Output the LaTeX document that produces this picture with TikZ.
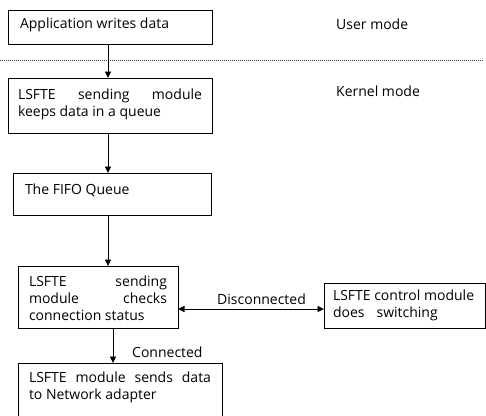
\documentclass[tikz,border=0pt]{standalone}
\usepackage{fontspec}
\setmainfont{Open Sans}
\usetikzlibrary{arrows.meta}

% boxed text: \boxtext{width}{height}{first baseline}{content}
\newcommand{\boxtext}[4]{%
  \parbox[t][#2][t]{#1}{\tolerance=10000\hbadness=10000\rule{0pt}{#3}#4}}

\begin{document}
\begin{tikzpicture}[x=1pt,y=-1pt,
  txt/.style={font=\fontsize{14}{17}\selectfont, text=black},
  stage/.style={txt, draw, line width=0.9pt, anchor=north west,
    inner ysep=0pt, outer sep=0pt},
  label/.style={txt, anchor=base west, inner sep=0pt},
  arr/.style={line width=0.9pt, -{Triangle[length=6.5pt,width=6pt]}},
  darr/.style={line width=0.9pt, {Triangle[length=6.5pt,width=6pt]}-{Triangle[length=6.5pt,width=6pt]}}
]
\clip (0,0) rectangle (486,415);

% stages of the sending path
\node[stage, inner xsep=12pt] (app) at (8,10)
  {\boxtext{180pt}{34pt}{18pt}{Application writes data}};
\node[stage, inner xsep=10pt] (queue) at (8,78)
  {\boxtext{184pt}{55pt}{21pt}{LSFTE sending module\linebreak keeps data in a queue}};
\node[stage, inner xsep=12pt] (fifo) at (13,173)
  {\boxtext{174pt}{42pt}{21pt}{The FIFO Queue}};
\node[stage, inner xsep=11pt] (check) at (18,266)
  {\boxtext{138pt}{62pt}{20pt}{LSFTE sending\linebreak module checks\linebreak connection status}};
\node[stage, inner xsep=9pt] (ctrl) at (324,283)
  {\boxtext{143pt}{45pt}{17pt}{LSFTE control module\\does\hspace{12pt}switching}};
\node[stage, inner xsep=11pt] (send) at (18,363)
  {\boxtext{182pt}{62pt}{19pt}{LSFTE module sends data\linebreak to Network adapter}};

% user / kernel boundary
\coordinate (bndL) at (0,60);
\coordinate (bndR) at (483,60);
\draw[line width=0.8pt, dash pattern=on 1pt off 1pt, black!75] (bndL) -- (bndR);
\node[label] (user) at (336,29) {User mode};
\node[label] (kernel) at (336,96) {Kernel mode};

% connectors
\draw[arr] ([xshift=100pt]app.south west) -- ([xshift=100pt]queue.north west);
\draw[arr] ([xshift=100pt]queue.south west) -- ([xshift=95pt]fifo.north west);
\draw[arr] ([xshift=95pt]fifo.south west) -- ([xshift=90pt]check.north west);
\draw[arr] ([xshift=95pt]check.south west) -- ([xshift=95pt]send.north west);
\draw[darr] ([yshift=19pt]check.south east) -- ([yshift=19pt]ctrl.south west);

\node[label] (disc) at (217,304) {Disconnected};
\node[label] (conn) at (132,357) {Connected};
\end{tikzpicture}
\end{document}
